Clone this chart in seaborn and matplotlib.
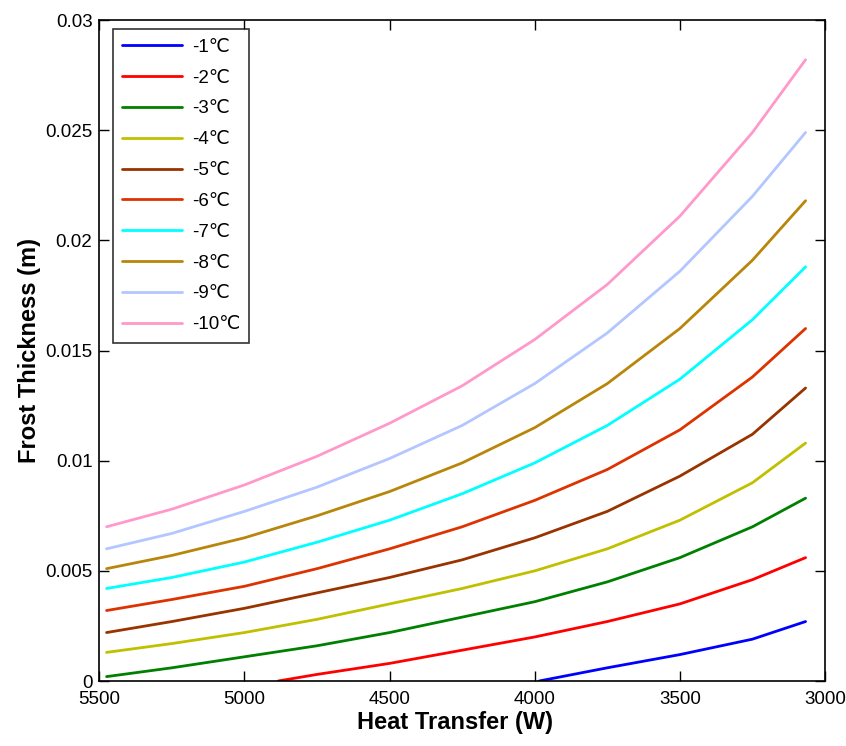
import matplotlib
matplotlib.use("Agg")
import matplotlib.pyplot as plt
import seaborn as sns
import pandas as pd

# heat transfer (W) sample points
x_common = [5475, 5250, 5000, 4750, 4500, 4250, 4000, 3750, 3500, 3250, 3067]
x_m2 = [4884, 4750, 4500, 4250, 4000, 3750, 3500, 3250, 3067]
x_m1 = [3985, 3750, 3500, 3250, 3067]

# frost thickness (m) for each surface temperature
t_m1 = [0.0, 0.0006, 0.0012, 0.0019, 0.0027]
t_m2 = [0.0, 0.0003, 0.0008, 0.0014, 0.0020, 0.0027, 0.0035, 0.0046, 0.0056]
t_m3 = [0.0002, 0.0006, 0.0011, 0.0016, 0.0022, 0.0029, 0.0036, 0.0045, 0.0056, 0.0070, 0.0083]
t_m4 = [0.0013, 0.0017, 0.0022, 0.0028, 0.0035, 0.0042, 0.0050, 0.0060, 0.0073, 0.0090, 0.0108]
t_m5 = [0.0022, 0.0027, 0.0033, 0.0040, 0.0047, 0.0055, 0.0065, 0.0077, 0.0093, 0.0112, 0.0133]
t_m6 = [0.0032, 0.0037, 0.0043, 0.0051, 0.0060, 0.0070, 0.0082, 0.0096, 0.0114, 0.0138, 0.0160]
t_m7 = [0.0042, 0.0047, 0.0054, 0.0063, 0.0073, 0.0085, 0.0099, 0.0116, 0.0137, 0.0164, 0.0188]
t_m8 = [0.0051, 0.0057, 0.0065, 0.0075, 0.0086, 0.0099, 0.0115, 0.0135, 0.0160, 0.0191, 0.0218]
t_m9 = [0.0060, 0.0067, 0.0077, 0.0088, 0.0101, 0.0116, 0.0135, 0.0158, 0.0186, 0.0220, 0.0249]
t_m10 = [0.0070, 0.0078, 0.0089, 0.0102, 0.0117, 0.0134, 0.0155, 0.0180, 0.0211, 0.0249, 0.0282]

labels = ["-1℃", "-2℃", "-3℃", "-4℃", "-5℃", "-6℃", "-7℃", "-8℃", "-9℃", "-10℃"]
colors = ["#0000ff", "#ff0000", "#008000", "#c0c000", "#993300",
          "#dd3300", "#00ffff", "#b8860b", "#b3c6ff", "#ff99cc"]

series = [(x_m1, t_m1), (x_m2, t_m2), (x_common, t_m3), (x_common, t_m4),
          (x_common, t_m5), (x_common, t_m6), (x_common, t_m7),
          (x_common, t_m8), (x_common, t_m9), (x_common, t_m10)]

frames = []
for lab, (xs, ys) in zip(labels, series):
    frames.append(pd.DataFrame({"heat": xs, "thick": ys, "temp": lab}))
df = pd.concat(frames, ignore_index=True)

sns.set_style("ticks")
plt.rcParams["font.family"] = ["Liberation Sans", "DejaVu Sans"]
plt.rcParams["text.color"] = "black"
plt.rcParams["axes.labelcolor"] = "black"

fig = plt.figure(figsize=(8.46, 7.46), dpi=100)
ax = fig.add_axes([0.1174, 0.0871, 0.8578, 0.886])

sns.lineplot(data=df, x="heat", y="thick", hue="temp", hue_order=labels,
             palette=dict(zip(labels, colors)), estimator=None, sort=True,
             linewidth=2.0, ax=ax)

ax.set_xlim(5500, 3000)
ax.set_ylim(0, 0.03)
ax.set_xticks([5500, 5000, 4500, 4000, 3500, 3000])
ax.set_yticks([0, 0.005, 0.01, 0.015, 0.02, 0.025, 0.03])
ax.set_yticklabels(["0", "0.005", "0.01", "0.015", "0.02", "0.025", "0.03"])
ax.tick_params(direction="in", length=7, width=1, top=True, right=True,
               labelsize=13.5, colors="black")
ax.tick_params(axis="x", pad=7)
ax.tick_params(axis="y", pad=5)
for s in ax.spines.values():
    s.set_linewidth(1.2)
    s.set_color("black")

ax.set_xlabel("Heat Transfer (W)", fontsize=17, fontweight="bold", color="black")
ax.set_ylabel("Frost Thickness (m)", fontsize=17, fontweight="bold", color="black")
ax.xaxis.set_label_coords(0.49, -0.045)
ax.yaxis.set_label_coords(-0.08, 0.5)

old = ax.get_legend()
handles = old.legend_handles
texts = [t.get_text() for t in old.get_texts()]
leg = ax.legend(handles, texts, loc="upper left", bbox_to_anchor=(0.019, 0.986),
                borderaxespad=0, fontsize=13.5, handlelength=3.2, handletextpad=0.5,
                labelspacing=0.73, frameon=True, fancybox=False, edgecolor="black",
                borderpad=0.5, labelcolor="black")
leg.get_frame().set_linewidth(1.2)

fig.savefig("out.png", dpi=100)
